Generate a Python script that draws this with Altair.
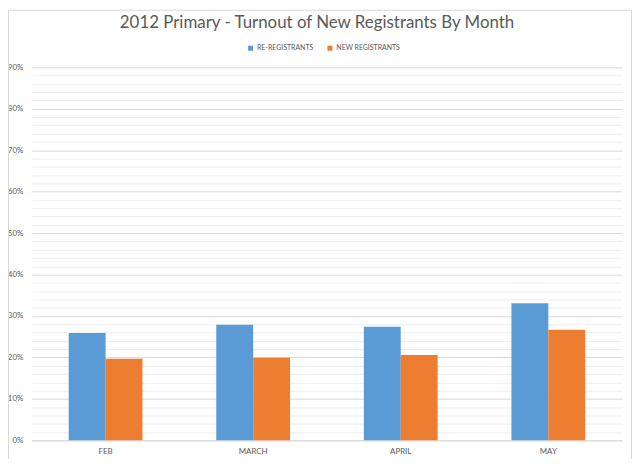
import altair as alt
import pandas as pd

months = ["FEB", "MARCH", "APRIL", "MAY"]
series = ["RE-REGISTRANTS", "NEW REGISTRANTS"]
re_registrants = [0.259, 0.279, 0.274, 0.331]
new_registrants = [0.197, 0.199, 0.206, 0.267]
colors = ["#5B9BD5", "#ED7D31"]
y_ticks = [round(i * 0.02, 2) for i in range(46)]

rows = []
for m, a, b in zip(months, re_registrants, new_registrants):
    rows.append({"month": m, "series": series[0], "value": a})
    rows.append({"month": m, "series": series[1], "value": b})
df = pd.DataFrame(rows)

font = "Lato"
text_color = "#595959"

bars = alt.Chart(df).mark_bar().encode(
    x=alt.X(
        "month:N", sort=months, title=None,
        scale=alt.Scale(paddingInner=0.5, paddingOuter=0.25),
        axis=alt.Axis(labelAngle=0, ticks=False, domainColor="#d9d9d9",
                      labelColor=text_color, labelFontSize=8, labelPadding=7,
                      labelFont=font, grid=False),
    ),
    xOffset=alt.XOffset("series:N", sort=series,
                        scale=alt.Scale(paddingInner=0, paddingOuter=0)),
    y=alt.Y(
        "value:Q", title=None,
        scale=alt.Scale(domain=[0, 0.9], nice=False),
        axis=alt.Axis(
            values=y_ticks, format=".0%",
            labelExpr="round(datum.value*100) % 10 == 0 ? datum.label : ''",
            labelOverlap=False, domain=False, ticks=False,
            gridColor={"condition": {"test": "round(datum.value*100) % 10 == 0", "value": "#d9d9d9"},
                       "value": "#ececec"},
            labelColor=text_color, labelFontSize=8, labelFont=font, labelPadding=9,
        ),
    ),
    color=alt.Color(
        "series:N", sort=series,
        scale=alt.Scale(domain=series, range=colors),
        legend=alt.Legend(title=None, orient="none", direction="horizontal",
                          legendX=217, legendY=-23, symbolType="square",
                          symbolSize=25, symbolStrokeWidth=0, labelFontSize=7,
                          labelFont=font, labelColor=text_color,
                          columnPadding=13, labelOffset=3),
    ),
)

border = alt.Chart(alt.Data(values=[{}])).mark_rect(
    fillOpacity=0, stroke="#d9d9d9", strokeWidth=1
).encode(
    x=alt.value(-23.5), x2=alt.value(604.5),
    y=alt.value(-57.5), y2=alt.value(396.5),
)

chart = alt.layer(border, bars).properties(
    width=595, height=376,
    autosize=alt.AutoSizeParams(type="none"),
    padding={"left": 24, "top": 58, "right": 10, "bottom": 17},
    title=alt.Title("2012 Primary - Turnout of New Registrants By Month",
                    font=font, fontSize=17, fontWeight="normal", color=text_color,
                    anchor="middle", frame="group", dx=-10, offset=-22),
).configure_view(stroke=None)

chart.save("out.html", embed_options={"renderer": "svg", "actions": False})
